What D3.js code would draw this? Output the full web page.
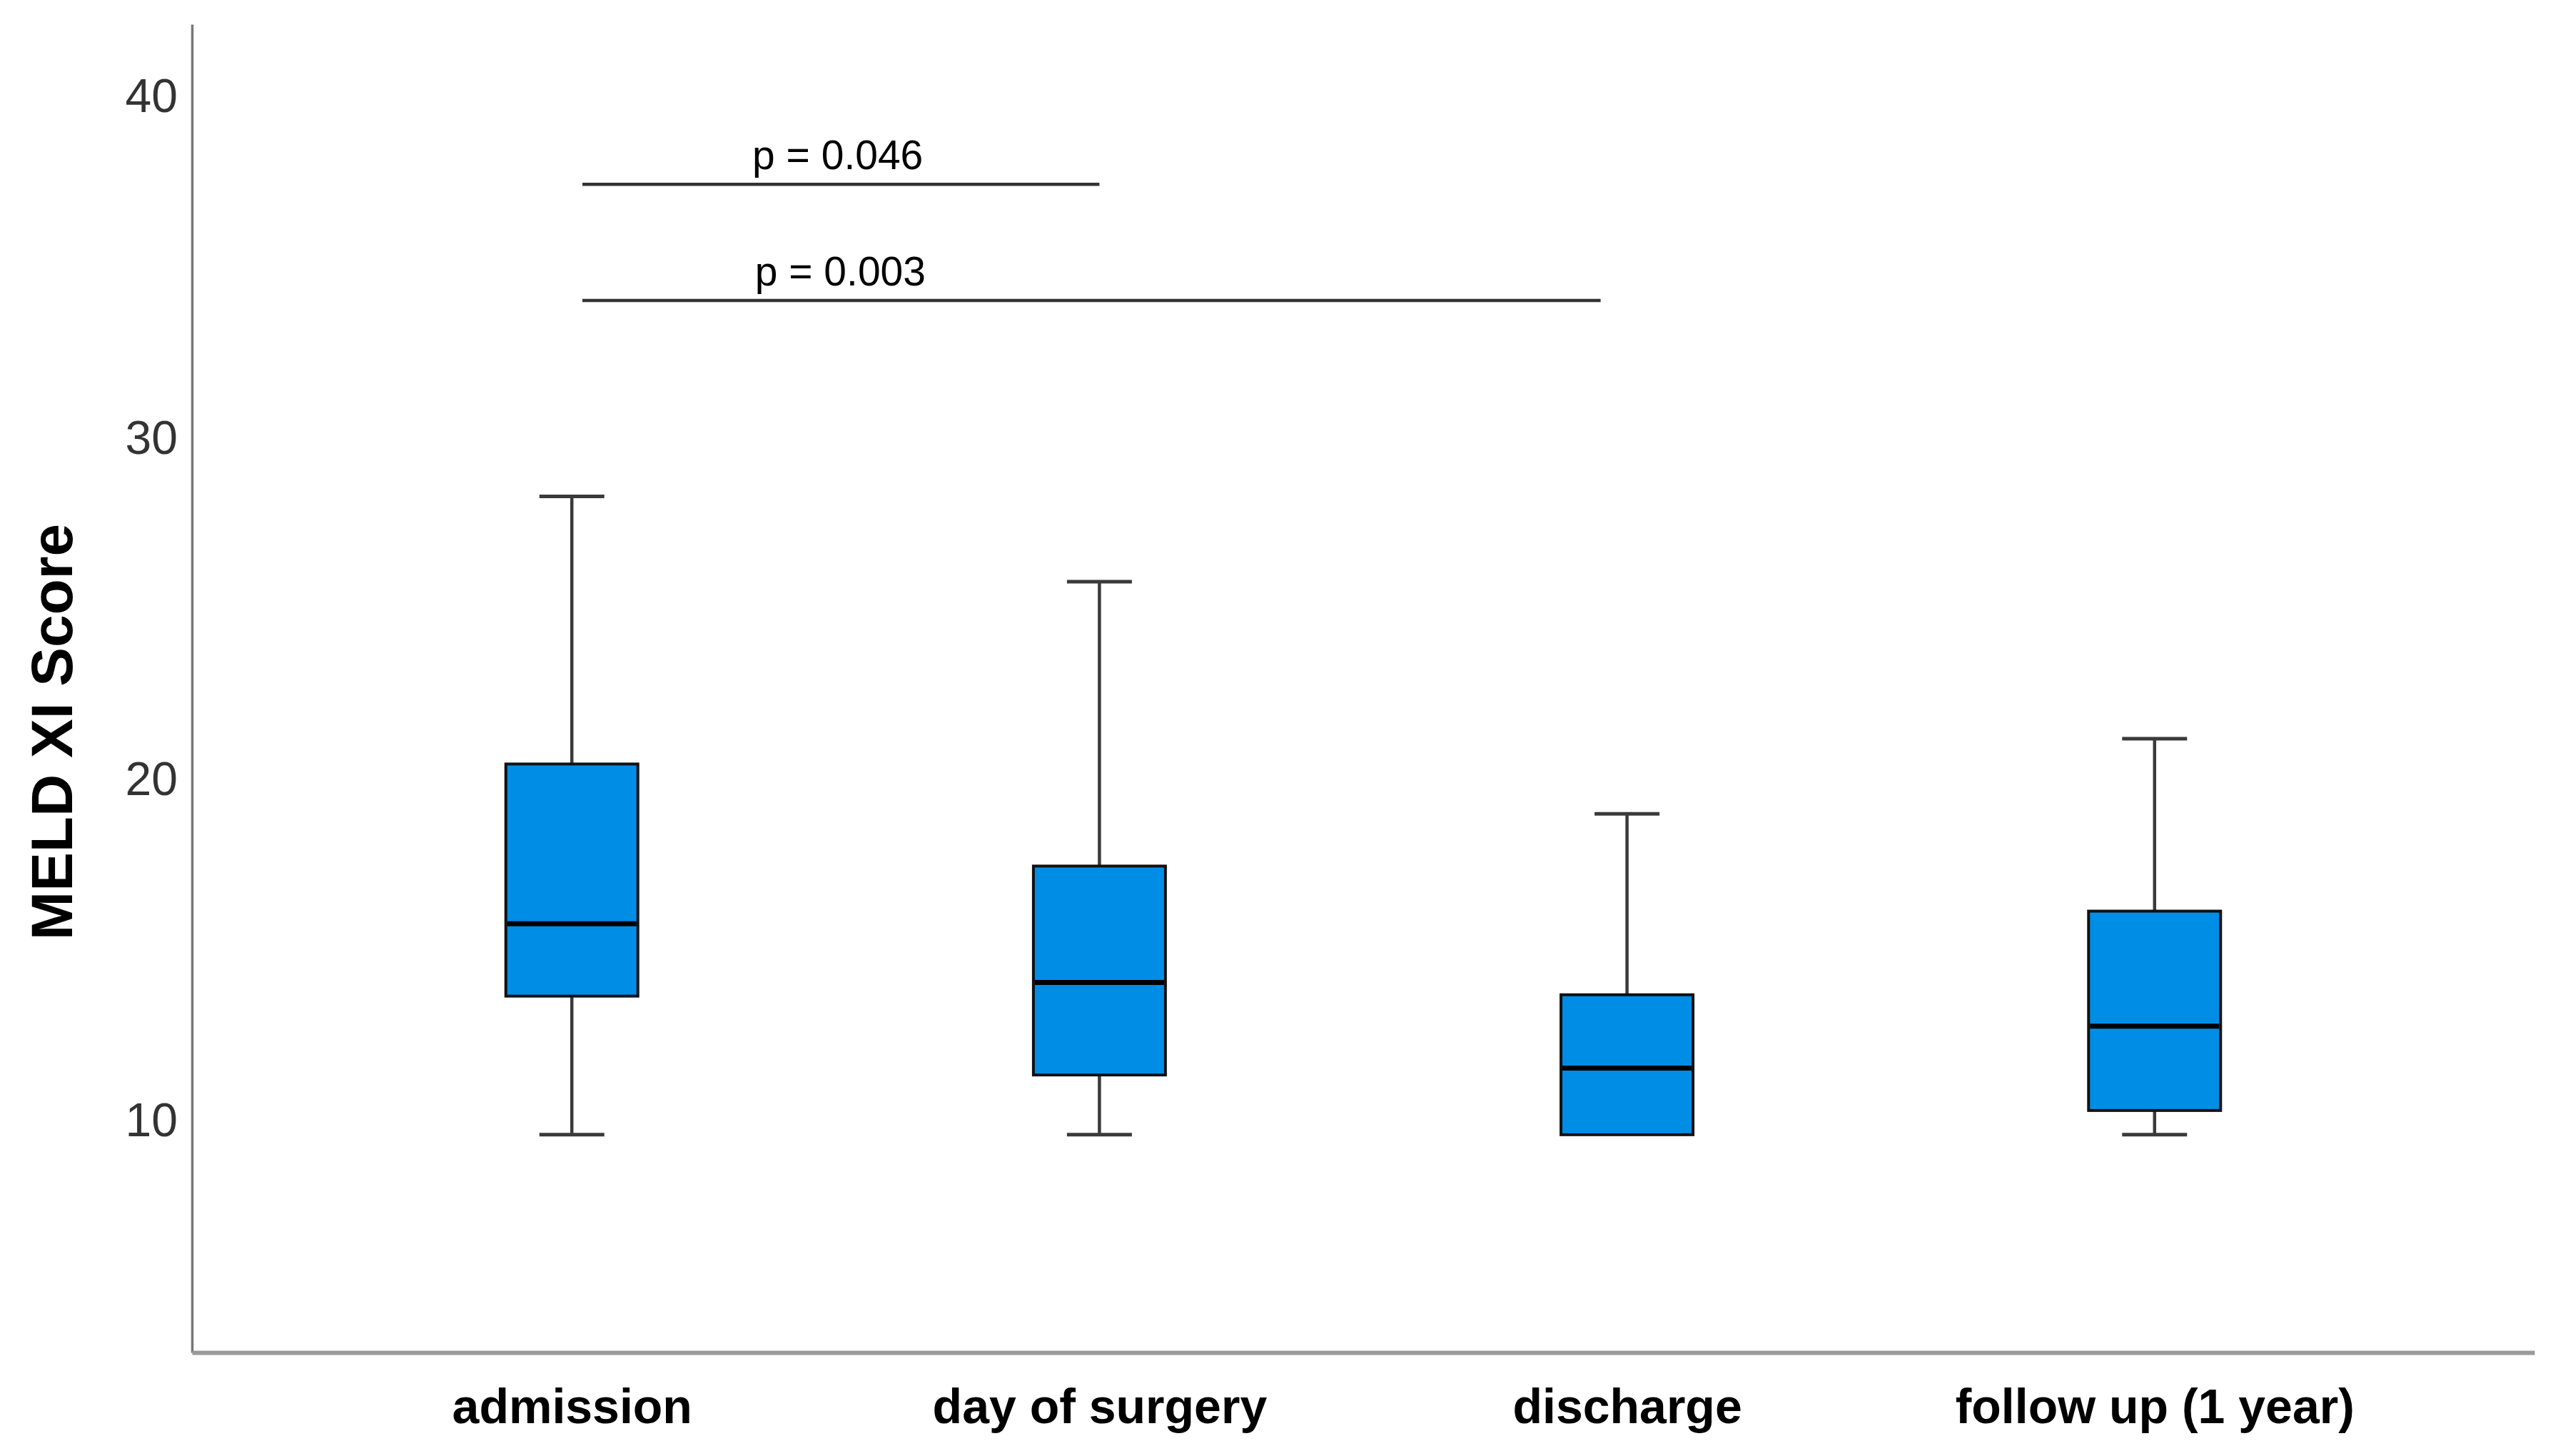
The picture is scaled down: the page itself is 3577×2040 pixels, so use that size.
<!DOCTYPE html>
<html>
<head>
<meta charset="utf-8">
<script src="https://cdn.jsdelivr.net/npm/d3@7"></script>
<style>
  body { margin: 0; background: #fff; }
  svg { display: block; }
  text { font-family: "Liberation Sans", Arial, sans-serif; }
</style>
</head>
<body>
<svg id="chart" width="3577" height="2040"></svg>
<script>
// Box plot summary per time point
const categories = ["admission", "day of surgery", "discharge", "follow up (1 year)"]
const whiskerLow = [9.6, 9.6, 9.6, 9.6]
const q1 = [13.66, 11.35, 9.6, 10.31]
const median = [15.78, 14.06, 11.55, 12.78]
const q3 = [20.46, 17.47, 13.7, 16.15]
const whiskerHigh = [28.3, 25.8, 19.0, 21.2]

const yTicks = [10, 20, 30, 40]
const yLabel = "MELD XI Score"

// Significance brackets: start / end in category-index units
const pLabels = ["p = 0.046", "p = 0.003"]
const pLevels = [37.44, 34.04]
const pStart = [0.02, 0.02]
const pEnd = [1.0, 1.95]
const pTextAt = [0.342, 0.347]

const data = categories.map((c, i) => ({
  cat: c, lo: whiskerLow[i], q1: q1[i], med: median[i], q3: q3[i], hi: whiskerHigh[i]
}))

const svg = d3.select("#chart")
const plotLeft = 269, plotRight = 3551, plotTop = 34, plotBottom = 1895
const boxWidth = 185
const capWidth = 91

const x = d3.scalePoint()
  .domain(categories)
  .range([plotLeft, plotRight])
  .padding(0.72)

const y = d3.scaleLinear()
  .domain([3.22, 42.13])
  .range([plotBottom, plotTop])

// category index -> pixel, for the brackets
const xi = d3.scaleLinear()
  .domain([0, categories.length - 1])
  .range([x(categories[0]), x(categories[categories.length - 1])])

// Y axis
const yAxis = svg.append("g")
  .attr("transform", `translate(${plotLeft},0)`)
  .call(d3.axisLeft(y).tickValues(yTicks).tickSize(0).tickPadding(20).tickFormat(d3.format("d")))
yAxis.select(".domain").attr("stroke", "#777").attr("stroke-width", 3.5)
yAxis.selectAll("text")
  .style("font-size", "66px")
  .style("fill", "#333")

// X axis
const xAxis = svg.append("g")
  .attr("transform", `translate(0,${plotBottom})`)
  .call(d3.axisBottom(x).tickSize(0).tickPadding(51))
xAxis.select(".domain").attr("stroke", "#9a9a9a").attr("stroke-width", 6)
xAxis.selectAll("text")
  .style("font-size", "68px")
  .style("font-weight", "bold")
  .style("fill", "#000")

// Y label
svg.append("text")
  .attr("transform", `translate(101,${(plotTop + plotBottom) / 2 + 61}) rotate(-90)`)
  .attr("text-anchor", "middle")
  .style("font-size", "82px")
  .style("font-weight", "bold")
  .style("fill", "#000")
  .text(yLabel)

// Whiskers
const boxes = svg.append("g")
const g = boxes.selectAll(".box")
  .data(data)
  .enter()
  .append("g")
  .attr("class", "box")

g.append("line")
  .attr("x1", d => x(d.cat)).attr("x2", d => x(d.cat))
  .attr("y1", d => y(d.q3)).attr("y2", d => y(d.hi))
  .attr("stroke", "#3a3a3a").attr("stroke-width", 4.5)

g.filter(d => d.lo < d.q1).append("line")
  .attr("x1", d => x(d.cat)).attr("x2", d => x(d.cat))
  .attr("y1", d => y(d.lo)).attr("y2", d => y(d.q1))
  .attr("stroke", "#3a3a3a").attr("stroke-width", 4.5)

g.append("line")
  .attr("x1", d => x(d.cat) - capWidth / 2).attr("x2", d => x(d.cat) + capWidth / 2)
  .attr("y1", d => y(d.hi)).attr("y2", d => y(d.hi))
  .attr("stroke", "#3a3a3a").attr("stroke-width", 5)

g.filter(d => d.lo < d.q1).append("line")
  .attr("x1", d => x(d.cat) - capWidth / 2).attr("x2", d => x(d.cat) + capWidth / 2)
  .attr("y1", d => y(d.lo)).attr("y2", d => y(d.lo))
  .attr("stroke", "#3a3a3a").attr("stroke-width", 5)

// Boxes
g.append("rect")
  .attr("x", d => x(d.cat) - boxWidth / 2)
  .attr("width", boxWidth)
  .attr("y", d => y(d.q3))
  .attr("height", d => y(d.q1) - y(d.q3))
  .attr("fill", "#008de6")
  .attr("stroke", "#111")
  .attr("stroke-width", 4)

// Medians
g.append("line")
  .attr("x1", d => x(d.cat) - boxWidth / 2 + 2).attr("x2", d => x(d.cat) + boxWidth / 2 - 2)
  .attr("y1", d => y(d.med)).attr("y2", d => y(d.med))
  .attr("stroke", "#000").attr("stroke-width", 7)

// Significance brackets
const brackets = svg.append("g")
pLabels.forEach((label, i) => {
  brackets.append("line")
    .attr("x1", xi(pStart[i])).attr("x2", xi(pEnd[i]))
    .attr("y1", y(pLevels[i])).attr("y2", y(pLevels[i]))
    .attr("stroke", "#333").attr("stroke-width", 4.5)
  brackets.append("text")
    .attr("x", xi(pTextAt[i]))
    .attr("y", y(pLevels[i]) - 21)
    .style("font-size", "57px")
    .style("fill", "#000")
    .text(label)
})
</script>
</body>
</html>
